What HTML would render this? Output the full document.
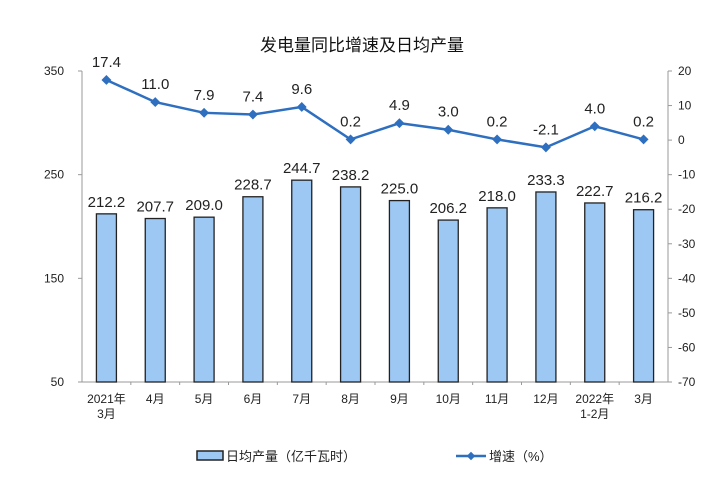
<!DOCTYPE html>
<html><head><meta charset="utf-8"><style>
body{margin:0;background:#fff;}
svg text{font-family:"Liberation Sans","Noto Sans CJK SC",sans-serif;}
</style></head><body>
<svg width="715" height="493">
<text x="362" y="51" text-anchor="middle" font-size="17" fill="#111">发电量同比增速及日均产量</text>
<g id="axes"></g><g id="bars"></g><g id="line"></g>
<g>
<rect x="197" y="451" width="26" height="9" fill="#9cc8f3" stroke="#222" stroke-width="1.5"/>
<text x="226" y="461" font-size="13" fill="#222">日均产量（亿千瓦时）</text>
<line x1="456" y1="456" x2="486" y2="456" stroke="#2e6fc0" stroke-width="2.5"/>
<rect x="468" y="453" width="6" height="6" fill="#2e6fc0" transform="rotate(45 471 456)"/>
<text x="489" y="461" font-size="13" fill="#222">增速（%）</text>
</g>
</svg>
<script>
const categories=["2021年|3月","4月","5月","6月","7月","8月","9月","10月","11月","12月","2022年|1-2月","3月"];
const production=[212.2,207.7,209.0,228.7,244.7,238.2,225.0,206.2,218.0,233.3,222.7,216.2];
const growth=[17.4,11.0,7.9,7.4,9.6,0.2,4.9,3.0,0.2,-2.1,4.0,0.2];
const leftTicks=[50,150,250,350];
const rightTicks=[20,10,0,-10,-20,-30,-40,-50,-60,-70];
const NS="http://www.w3.org/2000/svg";
const X0=82,X1=668,YT=71,YB=382;
const bw=(X1-X0)/categories.length;
const xc=i=>X0+bw*(i+0.5);
const yL=v=>YB-(v-50)/300*(YB-YT);
const yR=v=>YB-(v+70)/90*(YB-YT);
function mk(tag,attrs,parent,txt){const e=document.createElementNS(NS,tag);for(const k in attrs)e.setAttribute(k,attrs[k]);if(txt!=null)e.textContent=txt;parent.appendChild(e);return e;}
const ax=document.getElementById('axes');
let e=mk('line',{x1:X0,y1:YT,x2:X0,y2:YB,stroke:'#999'},ax);


e=mk('line',{x1:X1,y1:YT,x2:X1,y2:YB,stroke:'#999'},ax);


e=mk('line',{x1:X0,y1:YB,x2:X1,y2:YB,stroke:'#999'},ax);


leftTicks.forEach(v=>{mk('line',{x1:X0-4,y1:yL(v),x2:X0,y2:yL(v),stroke:'#999'},ax);
 const t=mk('text',{x:X0-18,y:yL(v)+4,'text-anchor':'end','font-size':12,fill:'#222','font-family':'Liberation Serif'},ax,v);
 
 });
rightTicks.forEach(v=>{mk('line',{x1:X1,y1:yR(v),x2:X1+4,y2:yR(v),stroke:'#999'},ax);
 const t=mk('text',{x:X1+10,y:yR(v)+4,'font-size':12,fill:'#222','font-family':'Liberation Serif'},ax,v);
 
 });
categories.forEach((c,i)=>{const parts=c.split('|');
 if(i>0)mk('line',{x1:X0+bw*i,y1:YB,x2:X0+bw*i,y2:YB+3,stroke:'#999'},ax);
 parts.forEach((p,j)=>{const t=mk('text',{x:xc(i),y:YB+21+j*15,'text-anchor':'middle','font-size':12,fill:'#222'},ax,p);
 
 });});
const bg=document.getElementById('bars');
production.forEach((v,i)=>{const r=mk('rect',{x:xc(i)-10,y:yL(v),width:20,height:YB-yL(v),fill:'#9cc8f3',stroke:'#222','stroke-width':1.3},bg);
 
 
 const t=mk('text',{x:xc(i),y:yL(v)-7,'text-anchor':'middle','font-size':15,fill:'#222'},bg,v.toFixed(1));
 
 });
const lg=document.getElementById('line');
const pl=mk('polyline',{points:growth.map((v,i)=>xc(i)+','+yR(v)).join(' '),fill:'none',stroke:'#2e6fc0','stroke-width':2.5},lg);


growth.forEach((v,i)=>{const m=mk('rect',{x:xc(i)-3.5,y:yR(v)-3.5,width:7,height:7,fill:'#2e6fc0',transform:`rotate(45 ${xc(i)} ${yR(v)})`},lg);
 
 
 const t=mk('text',{x:xc(i),y:yR(v)-13,'text-anchor':'middle','font-size':15,fill:'#222'},lg,v.toFixed(1));
 
 });
</script>
</body></html>
